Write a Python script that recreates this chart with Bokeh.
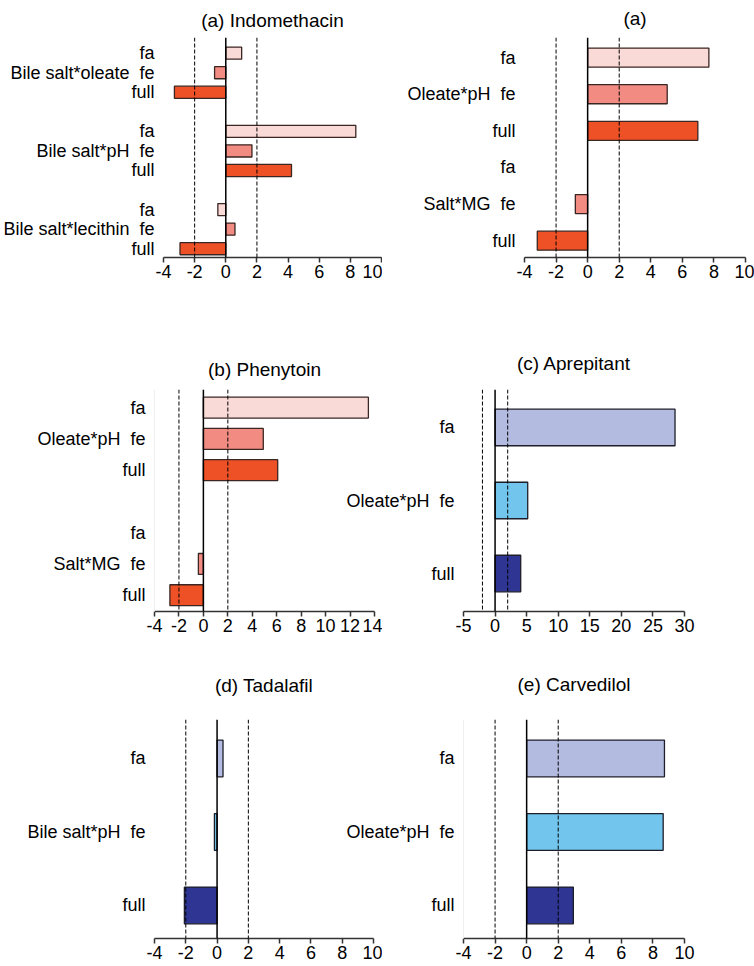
from bokeh.plotting import figure
from bokeh.models import Range1d, FixedTicker, Span
from bokeh.layouts import row, column
from bokeh.embed import file_html
from bokeh.resources import INLINE

NaN = float("nan")

# ---------------- data ----------------
a1_groups = ["Bile salt*oleate", "Bile salt*pH", "Bile salt*lecithin"]
a1_fa = [1.02, 8.35, -0.51]
a1_fe = [-0.72, 1.68, 0.59]
a1_full = [-3.3, 4.22, -2.94]

a2_groups = ["Oleate*pH", "Salt*MG"]
a2_fa = [7.68, NaN]
a2_fe = [5.04, -0.78]
a2_full = [6.98, -3.19]

b_groups = ["Oleate*pH", "Salt*MG"]
b_fa = [13.5, NaN]
b_fe = [4.9, -0.41]
b_full = [6.08, -2.74]

c_groups = ["Oleate*pH"]
c_fa = [28.5]
c_fe = [5.17]
c_full = [4.06]

d_groups = ["Bile salt*pH"]
d_fa = [0.38]
d_fe = [-0.17]
d_full = [-2.09]

e_groups = ["Oleate*pH"]
e_fa = [8.73]
e_fe = [8.65]
e_full = [2.96]

ticks_10 = [-4, -2, 0, 2, 4, 6, 8, 10]
ticks_14 = [-4, -2, 0, 2, 4, 6, 8, 10, 12, 14]
ticks_30 = [-5, 0, 5, 10, 15, 20, 25, 30]
thresholds = [-2, 2]

RED = ["#FADAD6", "#F28B82", "#EE5126"]
BLUE = ["#B3BCE0", "#72C6EE", "#2E3592"]

FONT = "Liberation Sans"


def make_panel(title, groups, fa, fe, full, colors, outline, x_start, x_end, xticks,
               y_top, y_bottom, gap, bar_h, W, H, L, R, T, B, title_standoff,
               margin=None, left_line=None, title_valign="bottom"):
    ys, vals, fills, labels = [], [], [], {}
    for gi, g in enumerate(groups):
        base = gi * (3 + gap)
        for k, (v, lab) in enumerate(zip((fa[gi], fe[gi], full[gi]),
                                         ("fa", g + " \u00a0fe", "full"))):
            ys.append(base + k)
            vals.append(v)
            fills.append(colors[k])
            labels[base + k] = lab
    p = figure(width=W, height=H, output_backend="svg", toolbar_location=None,
               x_range=Range1d(x_start, x_end),
               y_range=Range1d(start=y_bottom, end=y_top),
               min_border_left=L, min_border_right=R,
               min_border_top=T, min_border_bottom=B, title=title)
    if margin is not None:
        p.margin = margin
    p.background_fill_color = None
    p.border_fill_color = None
    p.outline_line_color = None
    p.xgrid.visible = False
    p.ygrid.visible = False

    p.title.text_font = FONT
    p.title.text_font_size = "19px"
    p.title.text_font_style = "normal"
    p.title.text_color = "black"
    p.title.align = "center"
    p.title.vertical_align = title_valign
    p.title.standoff = title_standoff

    xa = p.xaxis[0]
    xa.ticker = FixedTicker(ticks=xticks)
    xa.major_label_overrides = {t: str(t) for t in xticks if t < 0}
    xa.axis_line_width = 1.5
    xa.axis_line_color = "#333333"
    xa.major_tick_line_color = "#333333"
    xa.major_tick_line_width = 1.5
    xa.major_tick_out = 5
    xa.major_tick_in = 0
    xa.minor_tick_line_color = None
    xa.major_label_text_font = FONT
    xa.major_label_text_font_size = "18px"
    xa.major_label_text_color = "black"
    xa.major_label_standoff = 2

    ya = p.yaxis[0]
    ya.ticker = FixedTicker(ticks=sorted(labels.keys()))
    ya.major_label_overrides = labels
    ya.axis_line_color = left_line
    ya.major_tick_line_color = None
    ya.minor_tick_line_color = None
    ya.major_label_text_font = FONT
    ya.major_label_text_font_size = "18px"
    ya.major_label_text_color = "black"
    ya.major_label_standoff = 3

    p.hbar(y=ys, left=0, right=vals, height=bar_h, fill_color=fills,
           line_color=outline, line_width=1.3)

    for t in thresholds:
        p.add_layout(Span(location=t, dimension="height", line_color="black",
                          line_width=1, line_dash="4 2"))
    p.add_layout(Span(location=0, dimension="height", line_color="black",
                      line_width=1.5))
    return p


OUT_R = "#3a2622"
OUT_B = "#1e1e2a"
OV = (0, 0, 0, -47)
FAINT = "#eeeeee"

p1 = make_panel("(a) Indomethacin", a1_groups, a1_fa, a1_fe, a1_full, RED, OUT_R,
                -4, 10, ticks_10, -0.8, 10.45, 1, 0.62,
                382, 300, 161, 1, 33, 43, 9, None, None, "top")
p2 = make_panel("(a)", a2_groups, a2_fa, a2_fe, a2_full, RED, OUT_R,
                -4, 10, ticks_10, -0.55, 5.46, 0, 0.52,
                419, 300, 189, 9, 37, 43, 13, OV, None, "top")
p3 = make_panel("(b) Phenytoin", b_groups, b_fa, b_fe, b_full, RED, OUT_R,
                -4, 14, ticks_14, -0.58, 6.52, 1, 0.67,
                382, 340, 154, 8, 89, 29, 19, None, FAINT)
p4 = make_panel("(c) Aprepitant", c_groups, c_fa, c_fe, c_full, BLUE, OUT_B,
                -5, 30, ticks_30, -0.52, 2.52, 0, 0.5,
                419, 340, 128, 70, 89, 28, 31, OV)
p5 = make_panel("(d) Tadalafil", d_groups, d_fa, d_fe, d_full, BLUE, OUT_B,
                -4, 10, ticks_10, -0.53, 2.45, 0, 0.5,
                382, 326, 154, 9, 79, 28, 47)
p6 = make_panel("(e) Carvedilol", e_groups, e_fa, e_fe, e_full, BLUE, OUT_B,
                -4, 10, ticks_10, -0.53, 2.45, 0, 0.5,
                419, 326, 128, 70, 79, 28, 49, OV, FAINT)

layout = column(row(p1, p2), row(p3, p4), row(p5, p6))

open("out.html", "w").write(file_html(layout, INLINE))
